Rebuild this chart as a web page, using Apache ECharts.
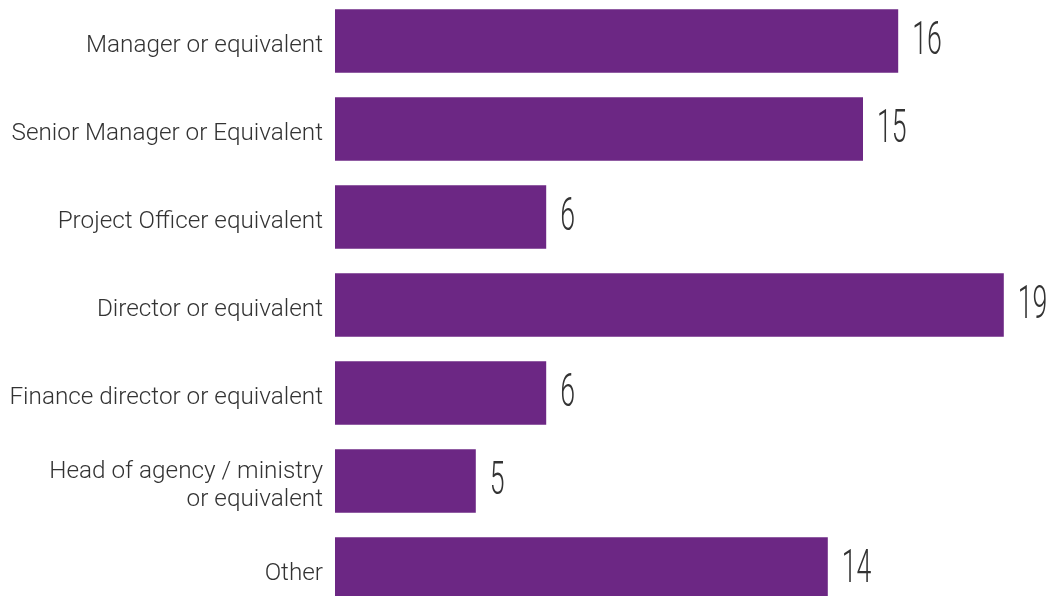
<!DOCTYPE html>
<html>
<head>
<meta charset="utf-8">
<script src="https://cdn.jsdelivr.net/npm/echarts@6/dist/echarts.min.js"></script>
<style>
html,body{margin:0;padding:0;background:#fff;}
#chart{width:1051px;height:596px;}
</style>
</head>
<body>
<div id="chart"></div>
<script>
const categories = [
  "Manager or equivalent",
  "Senior Manager or Equivalent",
  "Project Officer equivalent",
  "Director or equivalent",
  "Finance director or equivalent",
  "Head of agency / ministry\nor equivalent",
  "Other"
];
// bar lengths as drawn in the reference
const values = [16, 15, 6, 19, 6, 4, 14];
// value labels as printed in the reference
const valueLabels = ["16", "15", "6", "19", "6", "5", "14"];

const chart = echarts.init(document.getElementById('chart'), null, {renderer: 'canvas'});
const labelData = values.map((v, i) => [v, i]);

chart.setOption({
  animation: false,
  grid: [
    {left: 335, width: 704, top: -3, height: 616, containLabel: false, outerBoundsMode: 'none'},
    {left: 335, width: 704, top: 1.5, height: 616, containLabel: false, outerBoundsMode: 'none'}
  ],
  xAxis: [
    {type: 'value', min: 0, max: 20, show: false, splitLine: {show: false}},
    {type: 'value', min: 0, max: 20, show: false, splitLine: {show: false}, gridIndex: 1}
  ],
  yAxis: [
    {type: 'category', data: categories, inverse: true, show: false},
    {
      type: 'category', data: categories, inverse: true, gridIndex: 1,
      axisLine: {show: false}, axisTick: {show: false}, splitLine: {show: false},
      axisLabel: {
        margin: 12, color: '#333333', fontSize: 24.3, lineHeight: 28,
        fontFamily: 'Roboto, "Liberation Sans", sans-serif', fontWeight: 300, align: 'right'
      }
    }
  ],
  series: [
    {
      type: 'bar', data: values, barCategoryGap: '27.6%',
      itemStyle: {color: '#6C2784'}, silent: true
    },
    {
      type: 'custom', data: labelData, silent: true,
      renderItem: function (params, api) {
        const pt = api.coord([api.value(0), api.value(1)]);
        return {
          type: 'text', x: pt[0] + 14, y: pt[1] + 1, scaleX: 0.58, scaleY: 1,
          style: {
            text: valueLabels[params.dataIndex],
            fill: '#333333', fontSize: 46, fontWeight: 300,
            fontFamily: 'Roboto, "Liberation Sans", sans-serif',
            align: 'left', verticalAlign: 'middle'
          }
        };
      }
    }
  ]
});
</script>
</body>
</html>
